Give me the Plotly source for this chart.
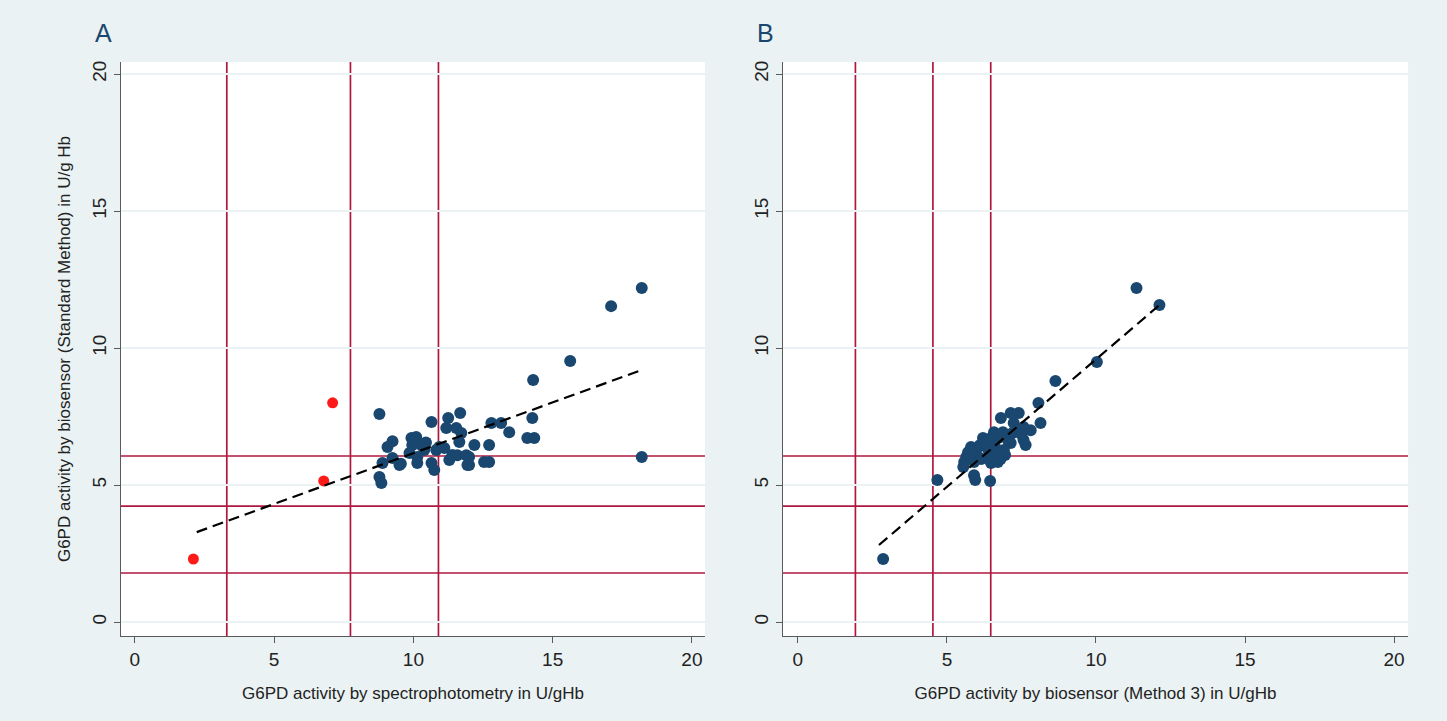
import plotly.graph_objects as go

# ---------------- data ----------------
# Panel A: spectrophotometry (x) vs biosensor standard method (y)
a_x = [8.78, 10.65, 11.25, 11.68, 11.18, 11.54, 11.72, 11.65, 12.19, 9.25, 9.07, 9.93, 10.10,
       9.96, 10.29, 10.39, 9.86, 10.14, 10.82, 11.11, 10.93, 9.25, 8.89, 9.50, 10.14, 10.65,
       10.75, 11.29, 11.58, 11.94, 11.90, 8.78, 8.85, 12.80, 13.15, 13.44, 14.27, 14.09, 14.34,
       12.72, 12.54, 12.72, 12.00, 12.00, 14.30, 15.63, 17.10, 18.20, 18.20, 9.55, 10.45, 11.40]
a_y = [7.59, 7.30, 7.45, 7.63, 7.08, 7.08, 6.90, 6.57, 6.46, 6.60, 6.39, 6.72, 6.75,
       6.46, 6.46, 6.28, 6.17, 6.02, 6.28, 6.35, 6.39, 5.99, 5.80, 5.73, 5.80, 5.80,
       5.55, 5.91, 6.09, 5.73, 6.09, 5.29, 5.07, 7.26, 7.26, 6.93, 7.45, 6.72, 6.72,
       6.46, 5.84, 5.84, 6.02, 5.73, 8.83, 9.53, 11.53, 12.19, 6.02, 5.78, 6.55, 6.10]
a_red_x = [2.10, 6.78, 7.10]
a_red_y = [2.30, 5.15, 8.00]
a_fit_x = [2.22, 18.20]
a_fit_y = [3.28, 9.20]
a_vcuts = [3.30, 7.74, 10.90]

# Panel B: biosensor method 3 (x) vs biosensor standard method (y)
b_x = [2.86, 4.68, 8.64, 10.03, 11.36, 12.13, 8.07, 8.14, 5.91, 5.95, 6.45, 6.81, 7.14, 7.41,
       7.81, 7.64, 7.57, 7.24, 6.58, 6.21, 5.81, 5.71, 5.65, 5.58, 5.55, 5.98, 6.05, 5.91,
       6.38, 6.48, 6.71, 6.58, 6.91, 7.14, 7.04, 6.71, 6.88, 7.37, 7.57, 6.10, 6.30, 6.60,
       6.95, 7.20, 5.75, 6.15, 6.45, 7.50, 6.80, 6.35]
b_y = [2.30, 5.18, 8.80, 9.49, 12.19, 11.57, 7.99, 7.26, 5.36, 5.18, 5.15, 7.45, 7.63, 7.63,
       7.00, 6.46, 6.64, 7.26, 6.93, 6.72, 6.39, 6.20, 6.02, 5.84, 5.66, 6.28, 6.02, 5.84,
       6.02, 5.80, 5.84, 6.17, 6.28, 6.53, 6.64, 6.72, 6.93, 7.00, 7.12, 6.45, 6.60, 6.45,
       6.10, 6.90, 6.10, 5.95, 6.70, 6.85, 5.95, 6.35]
b_fit_x = [2.72, 12.13]
b_fit_y = [2.81, 11.57]
b_vcuts = [1.93, 4.53, 6.47]

h_cuts = [6.06, 4.23, 1.79]

x_ticks = [0, 5, 10, 15, 20]
y_ticks = [0, 5, 10, 15, 20]
panel_labels = ["A", "B"]
x_titles = ["G6PD activity by spectrophotometry in U/gHb",
            "G6PD activity by biosensor (Method 3) in U/gHb"]
y_title = "G6PD activity by biosensor (Standard Method) in U/g Hb"

# ---------------- styles ----------------
NAVY = "#1a476f"
RED = "#ff1a1a"
CUT = "#b0173f"
BG = "#eaf2f3"
FONT = "Arial, Liberation Sans, sans-serif"
MS = 12

fig = go.Figure()

fig.add_trace(go.Scatter(x=a_x, y=a_y, mode="markers", xaxis="x", yaxis="y",
                         marker=dict(color=NAVY, size=MS), showlegend=False))
fig.add_trace(go.Scatter(x=a_red_x, y=a_red_y, mode="markers", xaxis="x", yaxis="y",
                         marker=dict(color=RED, size=MS - 1), showlegend=False))
fig.add_trace(go.Scatter(x=a_fit_x, y=a_fit_y, mode="lines", xaxis="x", yaxis="y",
                         line=dict(color="black", width=2.2, dash="11px,6px"), showlegend=False))

fig.add_trace(go.Scatter(x=b_x, y=b_y, mode="markers", xaxis="x2", yaxis="y2",
                         marker=dict(color=NAVY, size=MS), showlegend=False))
fig.add_trace(go.Scatter(x=b_fit_x, y=b_fit_y, mode="lines", xaxis="x2", yaxis="y2",
                         line=dict(color="black", width=2.2, dash="11px,6px"), showlegend=False))

shapes = []
for xr, yr, vc in (("x", "y", a_vcuts), ("x2", "y2", b_vcuts)):
    for v in vc:
        shapes.append(dict(type="line", xref=xr, yref=yr + " domain", x0=v, x1=v, y0=0, y1=1,
                           line=dict(color=CUT, width=1.7), layer="below"))
    for h in h_cuts:
        shapes.append(dict(type="line", xref=xr + " domain", yref=yr, x0=0, x1=1, y0=h, y1=h,
                           line=dict(color=CUT, width=1.7), layer="below"))

XR = [-0.5, 20.47]
YR = [-0.51, 20.44]

def xax(domain, anchor, title):
    return dict(domain=domain, anchor=anchor, range=XR, tickvals=x_ticks,
                ticks="outside", ticklen=6, tickwidth=1, tickcolor="#5a5a5a",
                showline=True, linecolor="#5a5a5a", linewidth=1.2, mirror=False,
                showgrid=False, zeroline=False,
                tickfont=dict(family=FONT, size=19, color="#222"),
                title=dict(text=title, font=dict(family=FONT, size=17, color="#222"), standoff=18))

def yax(domain, anchor, title):
    return dict(domain=domain, anchor=anchor, range=YR, tickvals=y_ticks, tickangle=-90,
                ticks="outside", ticklen=6, tickwidth=1, tickcolor="#5a5a5a",
                showline=True, linecolor="#5a5a5a", linewidth=1.2, mirror=False,
                showgrid=True, gridcolor=BG, gridwidth=1.5, zeroline=False,
                tickfont=dict(family=FONT, size=19, color="#222"),
                title=dict(text=title, font=dict(family=FONT, size=17, color="#222"), standoff=14))

ydom = [0.1179, 0.914]
fig.update_layout(
    width=1447, height=721,
    margin=dict(l=0, r=0, t=0, b=0),
    paper_bgcolor=BG, plot_bgcolor="white",
    xaxis=xax([0.0836, 0.4872], "y", x_titles[0]),
    yaxis=yax(ydom, "x", y_title),
    xaxis2=xax([0.5411, 0.9731], "y2", x_titles[1]),
    yaxis2=yax(ydom, "x2", ""),
    shapes=shapes,
    annotations=[
        dict(text=panel_labels[0], xref="paper", yref="paper", x=103 / 1447, y=1 - 33 / 721,
             xanchor="center", yanchor="middle",
             showarrow=False, font=dict(family=FONT, size=25, color=NAVY)),
        dict(text=panel_labels[1], xref="paper", yref="paper", x=765 / 1447, y=1 - 33 / 721,
             xanchor="center", yanchor="middle",
             showarrow=False, font=dict(family=FONT, size=25, color=NAVY)),
    ],
)

fig.write_html("out.html")
